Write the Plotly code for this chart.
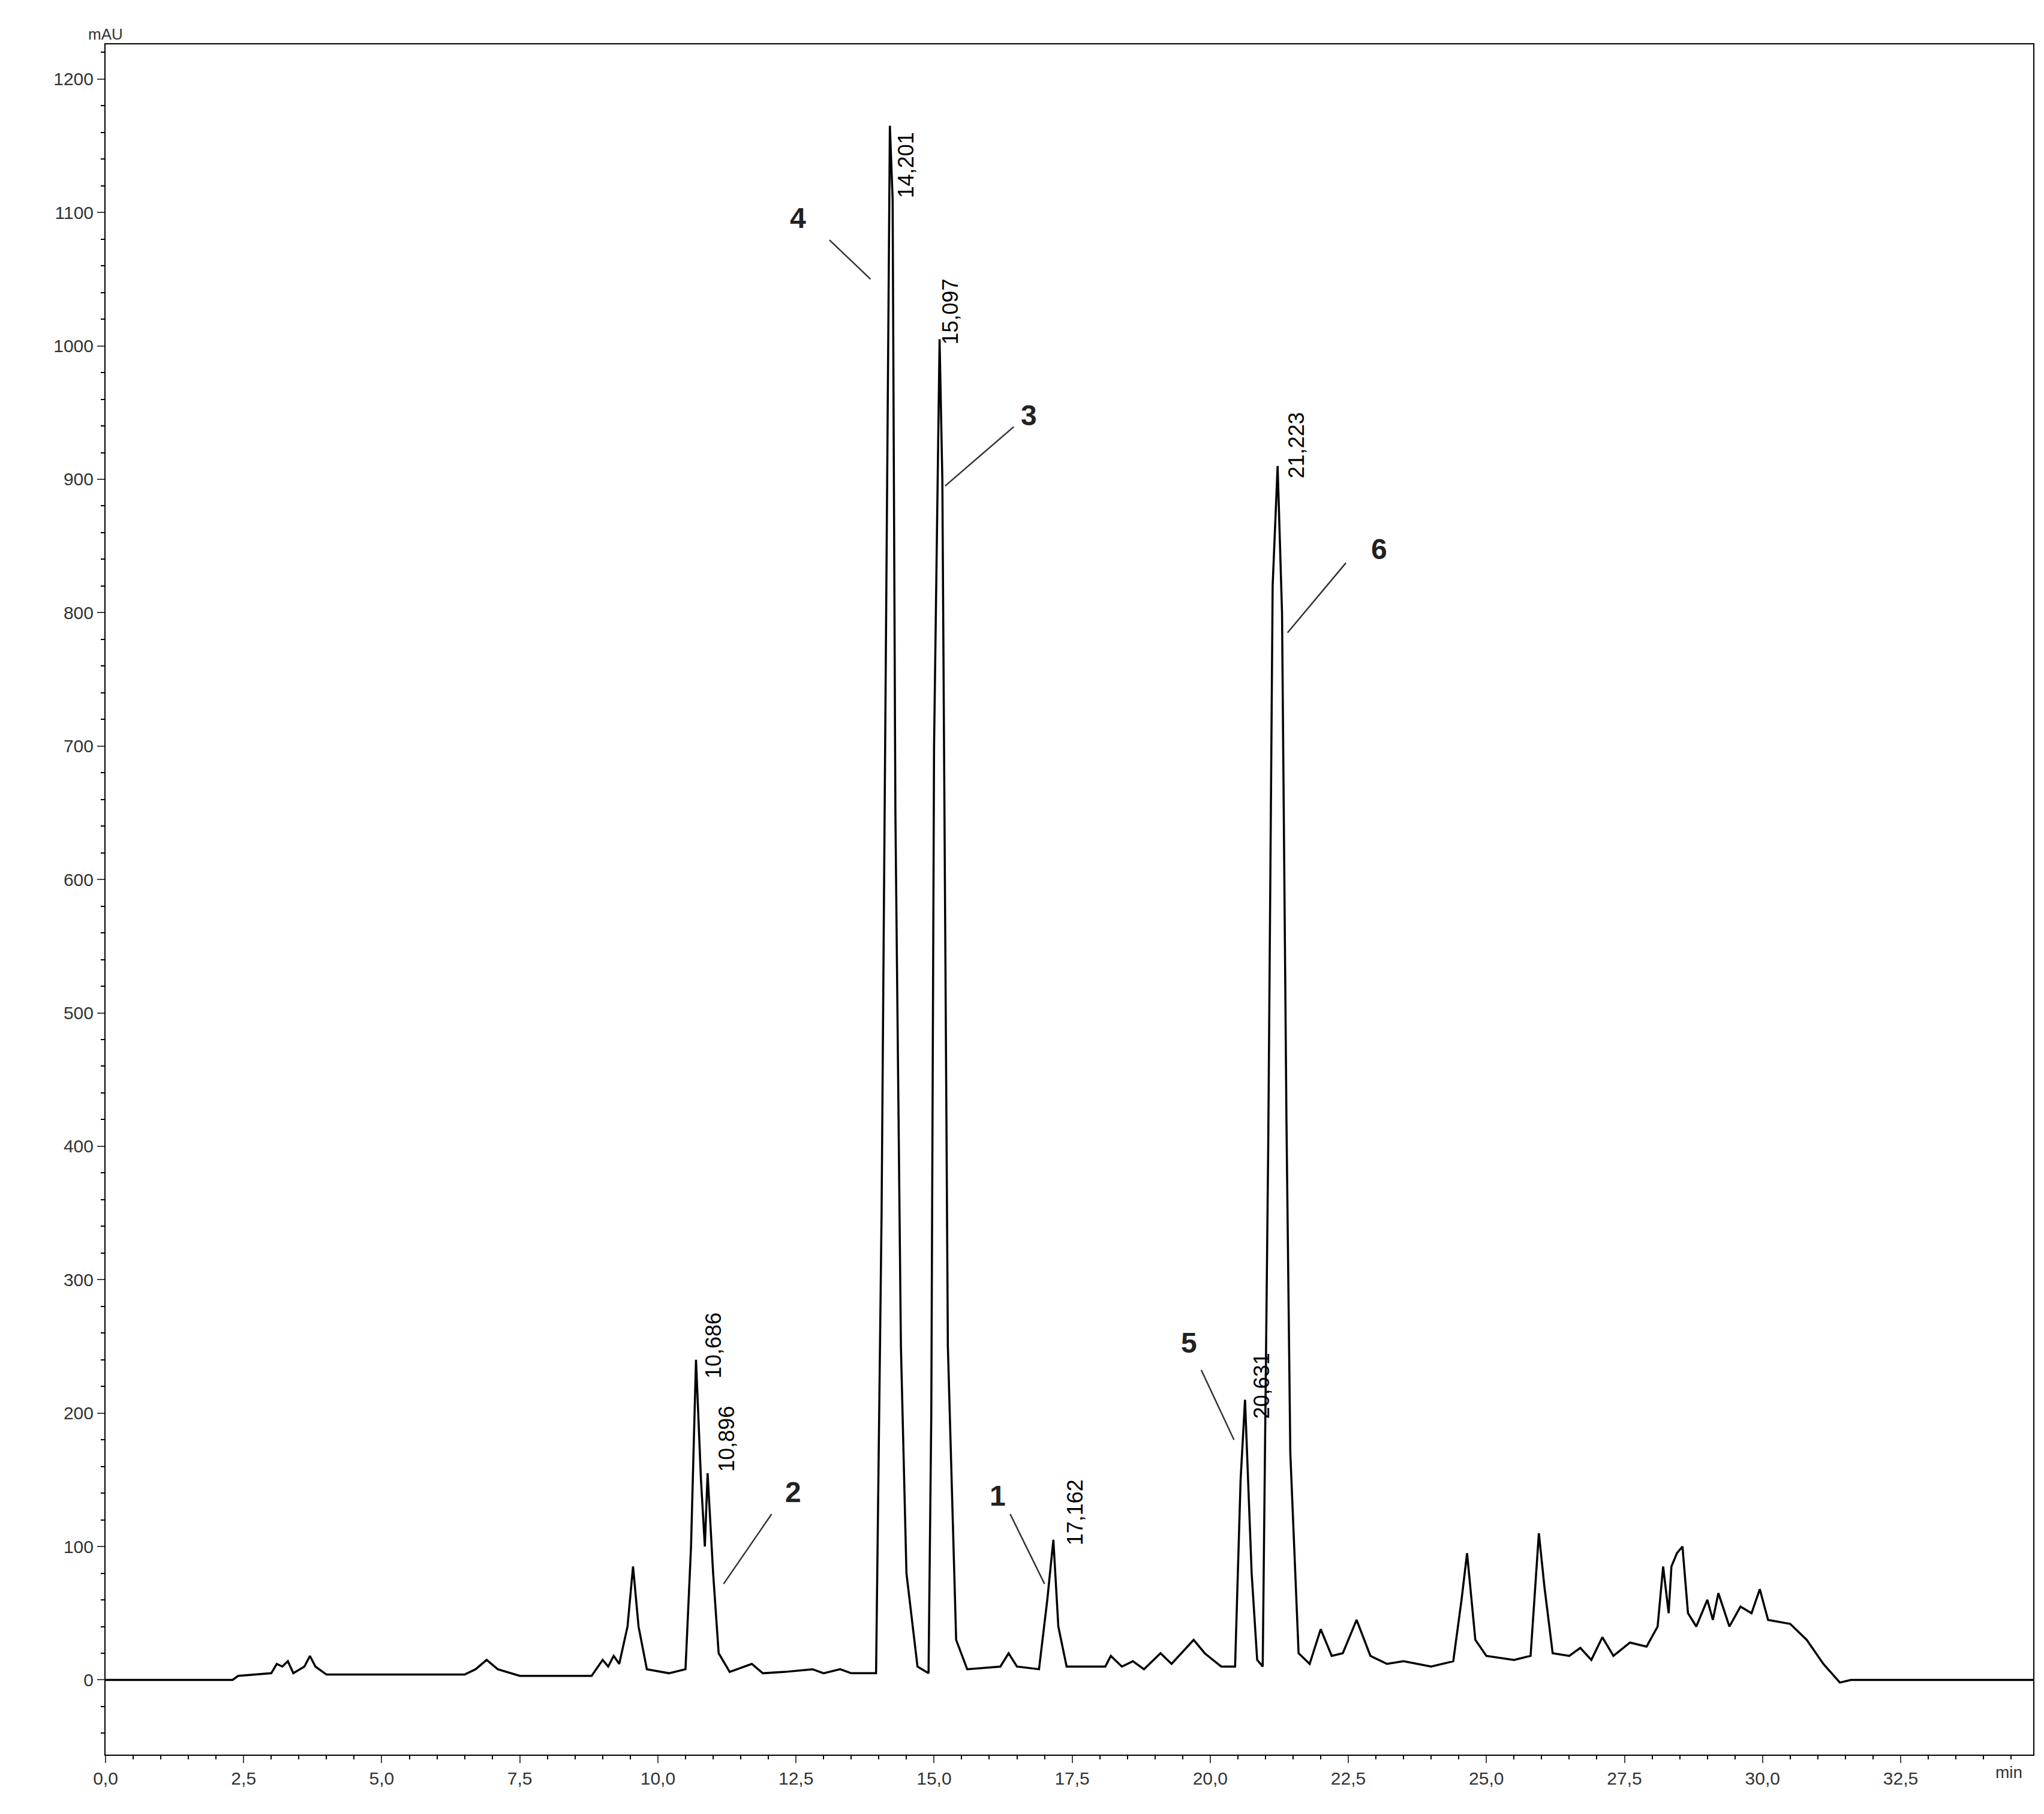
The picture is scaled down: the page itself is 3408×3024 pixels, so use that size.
import plotly.graph_objects as go

time_min = [0, 2.3, 2.4, 3.0, 3.1, 3.2, 3.3, 3.4, 3.6, 3.7, 3.8, 4.0, 6.5, 6.7, 6.9, 7.1, 7.5, 8.8, 9.0, 9.1, 9.2, 9.3,
            9.45, 9.55, 9.65, 9.8, 10.2, 10.5, 10.6, 10.69, 10.78, 10.85, 10.9, 11.0, 11.1, 11.3, 11.7, 11.9, 12.3,
            12.8, 13.0, 13.3, 13.5, 13.95, 14.05, 14.15, 14.2, 14.25, 14.3, 14.4, 14.5, 14.7, 14.9, 14.95, 15.0,
            15.1, 15.15, 15.25, 15.4, 15.6, 16.2, 16.35, 16.5, 16.9, 17.05, 17.16, 17.25, 17.4, 18.1, 18.2, 18.4,
            18.6, 18.8, 19.1, 19.3, 19.7, 19.9, 20.2, 20.45, 20.55, 20.63, 20.75, 20.85, 20.95, 21.05, 21.13, 21.22,
            21.3, 21.38, 21.45, 21.6, 21.8, 22.0, 22.2, 22.4, 22.65, 22.9, 23.2, 23.5, 24.0, 24.4, 24.55, 24.65,
            24.8, 25.0, 25.5, 25.8, 25.95, 26.05, 26.2, 26.5, 26.7, 26.9, 27.1, 27.3, 27.6, 27.9, 28.1, 28.2, 28.3,
            28.35, 28.45, 28.55, 28.65, 28.8, 29.0, 29.1, 29.2, 29.4, 29.6, 29.8, 29.95, 30.1, 30.5, 30.8, 31.1,
            31.4, 31.6, 34.9]
mau = [0, 0, 3, 5, 12, 10, 14, 5, 10, 18, 10, 4, 4, 8, 15, 8, 3, 3, 15, 10, 18, 12,
       40, 85, 40, 8, 5, 8, 100, 240, 150, 100, 155, 80, 20, 6, 12, 5, 6,
       8, 5, 8, 5, 5, 350, 920, 1165, 1110, 650, 250, 80, 10, 5, 200, 700,
       1005, 900, 250, 30, 8, 10, 20, 10, 8, 60, 105, 40, 10, 10, 18, 10,
       14, 8, 20, 12, 30, 20, 10, 10, 150, 210, 80, 15, 10, 400, 820, 910,
       800, 420, 170, 20, 12, 38, 18, 20, 45, 18, 12, 14, 10, 14, 60, 95,
       30, 18, 15, 18, 110, 70, 20, 18, 24, 15, 32, 18, 28, 25, 40, 85, 50,
       85, 95, 100, 50, 40, 60, 45, 65, 40, 55, 50, 68, 45, 42, 30, 12,
       -2, 0, 0]

rt_labels = ["10,686", "10,896", "14,201", "15,097", "17,162", "20,631", "21,223"]
rt_x = [11.0, 11.25, 14.5, 15.3, 17.55, 20.93, 21.57]
rt_y = [225, 155, 1110, 1000, 100, 195, 900]

peak_ids = ["1", "2", "3", "4", "5", "6"]
id_pos = [(16.15, 125), (12.45, 128), (16.72, 935), (12.54, 1083), (19.62, 240), (23.06, 835)]
line_start = [(16.37, 125), (12.07, 125), (16.46, 940), (13.09, 1080), (19.83, 233), (22.47, 838)]
id_tip = [(17.0, 72), (11.19, 72), (15.2, 895), (13.85, 1050), (20.43, 180), (21.4, 785)]

x_ticks = [i * 2.5 for i in range(14)]
x_text = [f"{v:.1f}".replace(".", ",") for v in x_ticks]

fig = go.Figure(go.Scatter(x=time_min, y=mau, mode="lines", line=dict(color="black", width=3.5), showlegend=False))

for lab, x, y in zip(rt_labels, rt_x, rt_y):
    fig.add_annotation(x=x, y=y, text=lab, textangle=-90, showarrow=False, yanchor="bottom",
                       font=dict(size=36, color="black"))
for lab, (x, y), (sx, sy), (tx, ty) in zip(peak_ids, id_pos, line_start, id_tip):
    fig.add_annotation(x=tx, y=ty, ax=sx, ay=sy, axref="x", ayref="y", text="", showarrow=True,
                       arrowhead=0, arrowwidth=2.5, arrowcolor="#333")
    fig.add_annotation(x=x, y=y, text=f"<b>{lab}</b>", showarrow=False, font=dict(size=48, color="#222"),
                       xanchor="center", yanchor="bottom")

fig.add_annotation(xref="paper", yref="paper", x=0, y=1, text="mAU", showarrow=False,
                   xanchor="center", yanchor="bottom", font=dict(size=26, color="#333"))
fig.add_annotation(xref="paper", yref="paper", x=0.995, y=0, yshift=-12, text="min", showarrow=False,
                   xanchor="right", yanchor="top", font=dict(size=28, color="#333"))

fig.update_layout(width=3408, height=3024, plot_bgcolor="white", paper_bgcolor="white",
                  margin=dict(l=168, r=26, t=66, b=107),
                  font=dict(family="Liberation Sans, Arial", size=30, color="#333"))
fig.update_xaxes(range=[0, 34.9], tickvals=x_ticks, ticktext=x_text, ticks="outside", ticklen=12,
                 tickwidth=2, showgrid=False, zeroline=False, showline=True, linecolor="black", linewidth=2,
                 mirror=True, minor=dict(dtick=0.5, ticks="outside", ticklen=6, tickcolor="black"))
fig.update_yaxes(range=[-56, 1226], tickvals=list(range(0, 1201, 100)), ticks="outside", ticklen=12, tickwidth=2,
                 showgrid=False, zeroline=False, showline=True, linecolor="black", linewidth=2, mirror=True,
                 minor=dict(dtick=20, ticks="outside", ticklen=6, tickcolor="black"))

fig.write_html("out.html")
